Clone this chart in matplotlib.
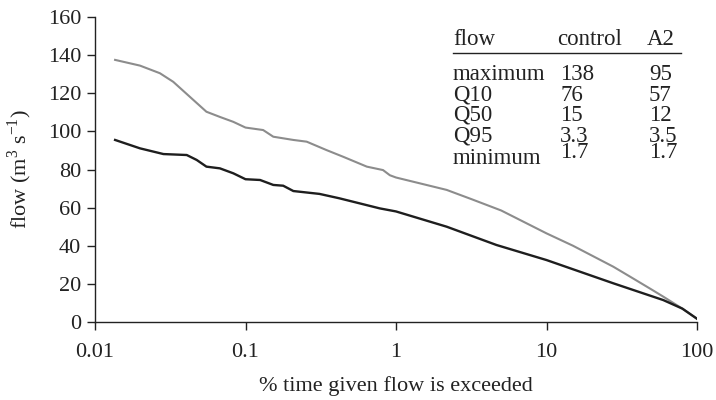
import matplotlib
matplotlib.use("Agg")
import matplotlib.pyplot as plt
from matplotlib.lines import Line2D

plt.rcParams['font.family'] = ['Liberation Serif', 'DejaVu Serif']
plt.rcParams['mathtext.fontset'] = 'custom'
plt.rcParams['mathtext.rm'] = 'Liberation Serif'

# control (grey) flow duration curve
control_x = [0.0136, 0.0199, 0.027, 0.0331, 0.045, 0.055, 0.068, 0.083, 0.1, 0.131, 0.153,
             0.208, 0.255, 0.345, 0.445, 0.64, 0.82, 0.91, 1.0, 2.17, 3.16, 5.0, 10, 15, 27.8,
             35.9, 50, 59.7, 80, 100]
control_y = [137.5, 134.5, 130.5, 126, 116.5, 110.3, 107.5, 105, 102, 100.7, 97.2,
             95.5, 94.6, 90.2, 86.7, 81.5, 79.7, 77, 75.8, 69.3, 64.5, 58.5, 46.5, 40, 29,
             23.8, 17, 13.3, 7, 1.7]
# A2 (dark) flow duration curve
a2_x = [0.0136, 0.0199, 0.0285, 0.0407, 0.0474, 0.055, 0.0676, 0.083, 0.1, 0.125,
        0.153, 0.178, 0.208, 0.31, 0.42, 0.78, 1.0, 2.17, 4.65, 10, 27.8, 59.7, 80, 100]
a2_y = [95.5, 91.1, 88.1, 87.6, 85, 81.5, 80.6, 78, 74.9, 74.5,
        71.9, 71.5, 68.7, 67.2, 64.9, 59.6, 58, 50, 40.4, 32.5, 20.3, 11.5, 7, 1.7]

yticks = [0, 20, 40, 60, 80, 100, 120, 140, 160]
xticks = [0.01, 0.1, 1, 10, 100]
xticklabels = ['0.01', '0.1', '1', '10', '100']

table_header = ['flow', 'control', 'A2']
table_rows = ['maximum', 'Q10', 'Q50', 'Q95', 'minimum']
table_control = ['138', '76', '15', '3.3', '1.7']
table_a2 = ['95', '57', '12', '3.5', '1.7']

W, H = 716, 400
TXT = '#222222'
fig = plt.figure(figsize=(W / 100, H / 100), dpi=100)
ax = fig.add_axes([95 / W, 1 - 322 / H, (697 - 95) / W, (322 - 17) / H])

ax.plot(control_x, control_y, color='#8c8c8c', lw=1.5)
ax.plot(a2_x, a2_y, color='#1e1e1e', lw=1.7)

ax.set_xscale('log')
ax.set_xlim(0.01, 100)
ax.set_ylim(0, 160)
ax.set_xticks(xticks)
ax.set_xticklabels(xticklabels)
ax.minorticks_off()
ax.set_yticks(yticks)
for s in ['top', 'right']:
    ax.spines[s].set_visible(False)
for s in ['left', 'bottom']:
    ax.spines[s].set_color(TXT)
    ax.spines[s].set_linewidth(1.0)
ax.tick_params(axis='both', labelsize=16, length=6, width=1.0, color=TXT,
               labelcolor=TXT, direction='out')
ax.tick_params(axis='x', pad=9)
ax.tick_params(axis='y', pad=4)
ax.set_xlabel('% time given flow is exceeded', fontsize=16, color=TXT, labelpad=10)
ax.set_ylabel('flow (m$^3$ s$^{-1}$)', fontsize=16, color=TXT, labelpad=10)

def ft(px, py, s, **kw):
    fig.text(px / W, 1 - py / H, s, fontsize=16.5, color=TXT, va='baseline', **kw)

ft(453, 45, table_header[0])
ft(557, 45, table_header[1])
ft(647, 45, table_header[2])
fig.add_artist(Line2D([453 / W, 681 / W], [1 - 53 / H, 1 - 53 / H], color=TXT, lw=1.0))
row_base = [80, 101, 121, 141.5, 164]
num_base = [80, 101, 121, 141.5, 158]
for name, c, a, rb, nb in zip(table_rows, table_control, table_a2, row_base, num_base):
    ft(453, rb, name)
    ft(560, nb, c)
    ft(649, nb, a)

fig.savefig('out.png', dpi=100)
